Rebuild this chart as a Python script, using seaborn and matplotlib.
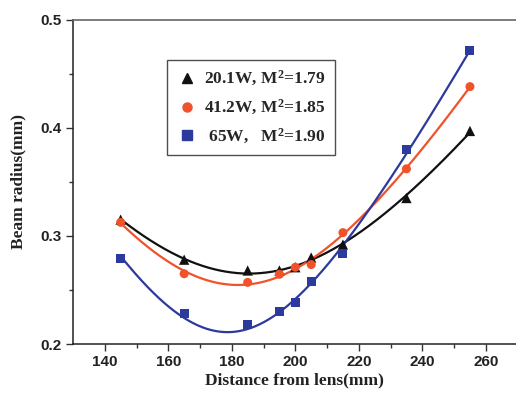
import numpy as np
import pandas as pd
import matplotlib
matplotlib.use("Agg")
import matplotlib.pyplot as plt
import seaborn as sns
from matplotlib.lines import Line2D

# ---- data ----
distance = [145, 165, 185, 195, 200, 205, 215, 235, 255]
r_20w = [0.315, 0.278, 0.268, 0.268, 0.271, 0.280, 0.292, 0.335, 0.397]
r_41w = [0.3125, 0.265, 0.257, 0.2645, 0.271, 0.2735, 0.303, 0.362, 0.438]
r_65w = [0.279, 0.228, 0.218, 0.230, 0.2385, 0.258, 0.2835, 0.380, 0.471]
labels = ["20.1W, M$^{2}$=1.79", "41.2W, M$^{2}$=1.85", " 65W,   M$^{2}$=1.90"]
colors = ["#111111", "#f0522a", "#2b3a9c"]
markers = ["^", "o", "s"]
series = [r_20w, r_41w, r_65w]
xticks = [140, 160, 180, 200, 220, 240, 260]
yticks = [0.2, 0.3, 0.4, 0.5]

sns.set_theme(style="ticks")
plt.rcParams["mathtext.fontset"] = "custom"
plt.rcParams["mathtext.rm"] = "Liberation Serif:bold"
plt.rcParams["mathtext.it"] = "Liberation Serif:bold"
plt.rcParams["mathtext.bf"] = "Liberation Serif:bold"
plt.rcParams["mathtext.default"] = "rm"

fig = plt.figure(figsize=(5.16, 3.95), dpi=100)
ax = fig.add_axes([0.1415, 0.129, 0.8585, 0.8215])

z = np.array(distance, dtype=float)
zz = np.linspace(145, 255, 300)
for lab, col, mk, w in zip(labels, colors, markers, series):
    w = np.array(w)
    # beam caustic fit: w^2 quadratic in z
    coef = np.polyfit(z, w ** 2, 2)
    fit = np.sqrt(np.polyval(coef, zz))
    sns.lineplot(x=zz, y=fit, ax=ax, color=col, lw=1.6, legend=False)
    sns.scatterplot(x=z, y=w, ax=ax, color=col, marker=mk,
                    s=55 if mk == "^" else 42,
                    edgecolor="none", legend=False, zorder=3)

ax.set_xlim(130, 269.5)
ax.set_ylim(0.2, 0.5)
ax.set_xticks(xticks)
ax.set_yticks(yticks)
ax.set_xticks([150, 170, 190, 210, 230, 250], minor=True)
ax.set_yticks([0.25, 0.35, 0.45], minor=True)
ax.tick_params(axis="both", which="major", direction="out", length=5, width=1,
               color="#333333", labelsize=11, pad=3)
ax.tick_params(axis="both", which="minor", direction="out", length=3, width=1,
               color="#333333")
for t in ax.get_xticklabels() + ax.get_yticklabels():
    t.set_fontfamily("Liberation Sans")
    t.set_fontweight("bold")
    t.set_color("#222222")

for s in ["left", "bottom"]:
    ax.spines[s].set_color("#222222")
    ax.spines[s].set_linewidth(1.1)
ax.spines["top"].set_color("#666666")
ax.spines["top"].set_linewidth(1.2)
ax.spines["right"].set_visible(False)

ax.set_xlabel("Distance from lens(mm)", fontsize=12.5, fontweight="bold",
              family="Liberation Serif", color="#222222", labelpad=2)
ax.set_ylabel("Beam radius(mm)", fontsize=12.5, fontweight="bold",
              family="Liberation Serif", color="#222222", labelpad=10)

handles = [Line2D([], [], ls="none", marker=mk, color=col, markersize=6.5)
           for mk, col in zip(markers, colors)]
leg = ax.legend(handles, labels, loc="upper left", bbox_to_anchor=(0.212, 0.876),
                frameon=True, fancybox=False, edgecolor="#222222",
                prop={"family": "Liberation Serif", "weight": "bold", "size": 12.5},
                labelspacing=0.55, handletextpad=0.4, handlelength=1.2,
                borderpad=0.55, borderaxespad=0)
leg.get_frame().set_linewidth(1.0)

fig.savefig("out.png", dpi=100)
